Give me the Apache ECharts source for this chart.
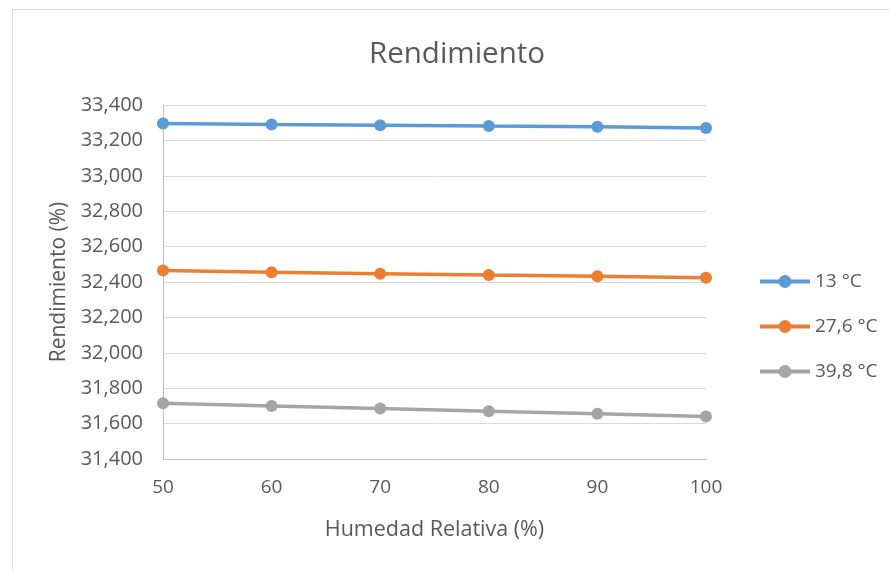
<!DOCTYPE html>
<html>
<head>
<meta charset="utf-8">
<script src="https://cdn.jsdelivr.net/npm/echarts@6/dist/echarts.min.js"></script>
<style>
  html, body { margin: 0; padding: 0; background: #fff; }
  #chart { width: 889px; height: 571px; }
</style>
</head>
<body>
<div id="chart"></div>
<script>
// Relative humidity (%) on the x axis
const humedad = [50, 60, 70, 80, 90, 100];

// Efficiency per ambient temperature
const serieNames = ['13 °C', '27,6 °C', '39,8 °C'];
const rend13 = [33295, 33290, 33286, 33281, 33277, 33270];
const rend276 = [32465, 32455, 32447, 32439, 32432, 32424];
const rend398 = [31715, 31700, 31685, 31670, 31655, 31640];

const colors = ['#5b9bd5', '#ed7d31', '#a5a5a5'];
const font = '"Open Sans", Lato, sans-serif';
const textColor = '#595959';

const fmt = v => v.toLocaleString('en-US');

const pairs = vals => humedad.map((h, i) => [h, vals[i]]);

const mkSeries = (name, vals, color) => ({
  name,
  type: 'line',
  data: pairs(vals),
  symbol: 'circle',
  symbolSize: 12,
  lineStyle: { color, width: 3.5 },
  itemStyle: { color },
  z: 3
});

const chart = echarts.init(document.getElementById('chart'), null, { renderer: 'canvas' });
chart.setOption({
  animation: false,
  backgroundColor: '#ffffff',
  title: {
    text: 'Rendimiento',
    left: 452,
    textAlign: 'center',
    top: 35,
    textStyle: { fontFamily: font, fontSize: 29.5, fontWeight: 'normal', color: textColor }
  },
  graphic: [{
    type: 'rect',
    shape: { x: 12.5, y: 9.5, width: 900, height: 600 },
    style: { fill: 'none', stroke: '#d9d9d9', lineWidth: 1 },
    silent: true
  }],
  grid: { left: 163, right: 183, top: 105, bottom: 112 },
  xAxis: {
    type: 'value',
    min: 50,
    max: 100,
    interval: 10,
    name: 'Humedad Relativa (%)',
    nameLocation: 'middle',
    nameGap: 60,
    nameTextStyle: { fontFamily: font, fontSize: 21.5, color: textColor },
    axisLine: { show: true, lineStyle: { color: '#bfbfbf', width: 1 } },
    axisTick: { show: false },
    splitLine: { show: false },
    axisLabel: { fontFamily: font, fontSize: 19, color: textColor, margin: 19 }
  },
  yAxis: {
    type: 'value',
    min: 31400,
    max: 33400,
    interval: 200,
    name: 'Rendimiento (%)',
    nameLocation: 'middle',
    nameRotate: 90,
    nameGap: 85,
    nameTextStyle: { fontFamily: font, fontSize: 21, color: textColor },
    axisLine: { show: true, lineStyle: { color: '#bfbfbf', width: 1 } },
    axisTick: { show: false },
    splitLine: { show: true, lineStyle: { color: '#d9d9d9', width: 1 } },
    axisLabel: { fontFamily: font, fontSize: 20, color: textColor, margin: 20, formatter: fmt }
  },
  legend: {
    orient: 'vertical',
    left: 753,
    top: 267,
    itemWidth: 50,
    itemHeight: 16,
    itemGap: 26,
    lineStyle: { width: 4 },
    data: serieNames,
    textStyle: { fontFamily: font, fontSize: 19, color: textColor }
  },
  series: [
    mkSeries(serieNames[0], rend13, colors[0]),
    mkSeries(serieNames[1], rend276, colors[1]),
    mkSeries(serieNames[2], rend398, colors[2])
  ]
});
</script>
</body>
</html>
